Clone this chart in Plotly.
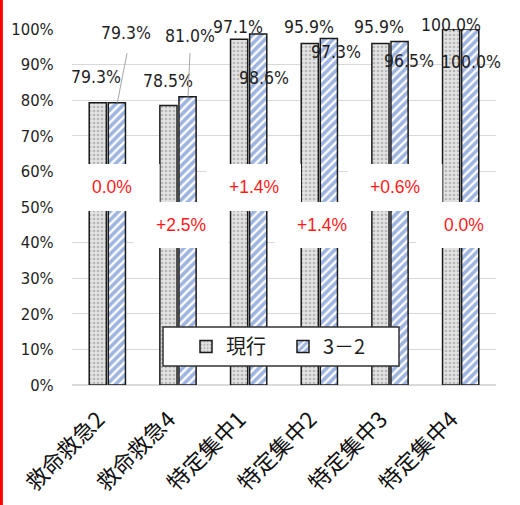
import plotly.graph_objects as go

# ---------------- data ----------------
categories = ["救命救急2", "救命救急4", "特定集中1", "特定集中2", "特定集中3", "特定集中4"]
series_names = ["現行", "3－2"]
current = [79.3, 78.5, 97.1, 95.9, 95.9, 100.0]
revised = [79.3, 81.0, 98.6, 97.3, 96.5, 100.0]
diff_labels = ["0.0%", "+2.5%", "+1.4%", "+1.4%", "+0.6%", "0.0%"]
y_tick_vals = [0, 10, 20, 30, 40, 50, 60, 70, 80, 90, 100]
y_tick_text = [f"{v}%" for v in y_tick_vals]

# ---------------- style ----------------
W, H = 520, 505
ML, MR, MT, MB = 72, 24, 29, 120
NARROW = "Liberation Sans Narrow, Arial Narrow, DejaVu Sans Condensed, Liberation Sans, Arial"
CJK = "Noto Sans CJK JP, Noto Sans CJK SC, sans-serif"
BAR_HALF_OFFSET = 10  # px from category centre to each bar centre
# label offsets (dx, dy) in px relative to the top-centre of each bar (dy positive = down)
gray_off = [(-1, -26), (0, -25), (-1, -12), (0, -17), (-1, -17), (0, -4)]
blue_off = [(9, -70), (1.5, -61), (5, 44), (7, 13), (9, 20), (0, 33)]
# leader lines (category index -> start offset of the line from the blue bar top)
leaders = {0: (10, -51), 1: (2, -45)}
diff_rows_y = [55.6, 44.9]       # y (data) of the two rows of difference labels
diff_box = [(48.9, 62.1), (38.5, 51.4)]
diff_dx = [5, 3]

pw = W - ML - MR
ph = H - MT - MB
cat_px = pw / len(categories)

fig = go.Figure()
fig.add_trace(go.Bar(
    name=series_names[0], x=categories, y=current,
    marker=dict(color="#e3e3e3", line=dict(color="#1a1a1a", width=1.5),
                pattern=dict(shape=".", fgcolor="#8a8a8a", bgcolor="#e3e3e3", size=4, solidity=0.35)),
))
fig.add_trace(go.Bar(
    name=series_names[1], x=categories, y=revised,
    marker=dict(color="white", line=dict(color="#1a1a1a", width=1.5),
                pattern=dict(shape="/", fgcolor="#3f6cc0", bgcolor="white", size=6, solidity=0.62)),
))

ann = []
for i, cat in enumerate(categories):
    dx, dy = gray_off[i]
    ann.append(dict(x=cat, y=current[i], text=f"{current[i]:.1f}%", showarrow=False,
                    xshift=-BAR_HALF_OFFSET + dx, yshift=-dy,
                    font=dict(family=NARROW, size=17.5, color="#1f1f1f")))
    dx, dy = blue_off[i]
    ann.append(dict(x=cat, y=revised[i], text=f"{revised[i]:.1f}%", showarrow=False,
                    xshift=BAR_HALF_OFFSET + dx, yshift=-dy,
                    font=dict(family=NARROW, size=17.5, color="#1f1f1f")))
for i, (ax, ay) in leaders.items():
    ann.append(dict(x=categories[i], y=revised[i], text="", showarrow=True,
                    xshift=BAR_HALF_OFFSET, ax=ax, ay=ay, arrowhead=0,
                    arrowwidth=1, arrowcolor="#a6a6a6"))

shapes = []
for i, lab in enumerate(diff_labels):
    row = i % 2
    x0 = i + diff_dx[row] / cat_px - 0.67
    x1 = i + diff_dx[row] / cat_px + 0.67
    shapes.append(dict(type="rect", xref="x", yref="y", x0=x0, x1=x1,
                       y0=diff_box[row][0], y1=diff_box[row][1],
                       fillcolor="white", line=dict(width=0), layer="above"))
    ann.append(dict(x=categories[i], y=diff_rows_y[row], text=lab, showarrow=False,
                    xshift=diff_dx[row],
                    font=dict(family="Liberation Sans, Arial", size=17.5, color="#ff1a1a")))

# legend frame (box drawn as a shape, legend itself transparent on top)
LEG_L, LEG_R, LEG_T, LEG_B = 163, 399, 327, 366
shapes.append(dict(type="rect", xref="paper", yref="paper",
                   x0=(LEG_L - ML) / pw, x1=(LEG_R - ML) / pw,
                   y0=(H - MB - LEG_B) / ph, y1=(H - MB - LEG_T) / ph,
                   fillcolor="white", line=dict(color="#333333", width=1.5), layer="above"))

shapes.append(dict(type="line", xref="paper", yref="paper",
                   x0=(1.4 - ML) / pw, x1=(1.4 - ML) / pw,
                   y0=-MB / ph, y1=1 + MT / ph, line=dict(color="red", width=3)))

fig.update_layout(
    width=W, height=H, margin=dict(l=ML, r=MR, t=MT, b=MB),
    paper_bgcolor="white", plot_bgcolor="white",
    barmode="group", bargap=0.46, bargroupgap=0.1,
    showlegend=True,
    legend=dict(orientation="h", x=(186 - ML) / pw, xanchor="left",
                y=(H - MB - (LEG_T + LEG_B) / 2) / ph, yanchor="middle",
                entrywidth=52, entrywidthmode="pixels",
                bgcolor="rgba(0,0,0,0)", borderwidth=0,
                font=dict(family=CJK, size=20, color="#1f1f1f")),
    annotations=ann, shapes=shapes,
    xaxis=dict(range=[-0.5, len(categories) - 0.5],
               tickangle=-45, tickfont=dict(family=CJK, size=22, color="#111111"),
               showgrid=False, showline=False, ticks="outside", ticklen=12,
               ticklabelshift=-9,
               tickcolor="rgba(0,0,0,0)", automargin=False),
    yaxis=dict(range=[0, 100], tickvals=y_tick_vals, ticktext=y_tick_text,
               showgrid=True, gridcolor="#d9d9d9", gridwidth=1,
               zeroline=True, zerolinecolor="#d9d9d9", zerolinewidth=1.5,
               ticks="outside", ticklen=14, tickcolor="rgba(0,0,0,0)", automargin=False,
               tickfont=dict(family=NARROW, size=16.5, color="#1f1f1f")),
)

fig.write_html("out.html", config={"displayModeBar": False},
               post_script="document.body.style.margin='0';document.body.style.overflow='hidden';")
